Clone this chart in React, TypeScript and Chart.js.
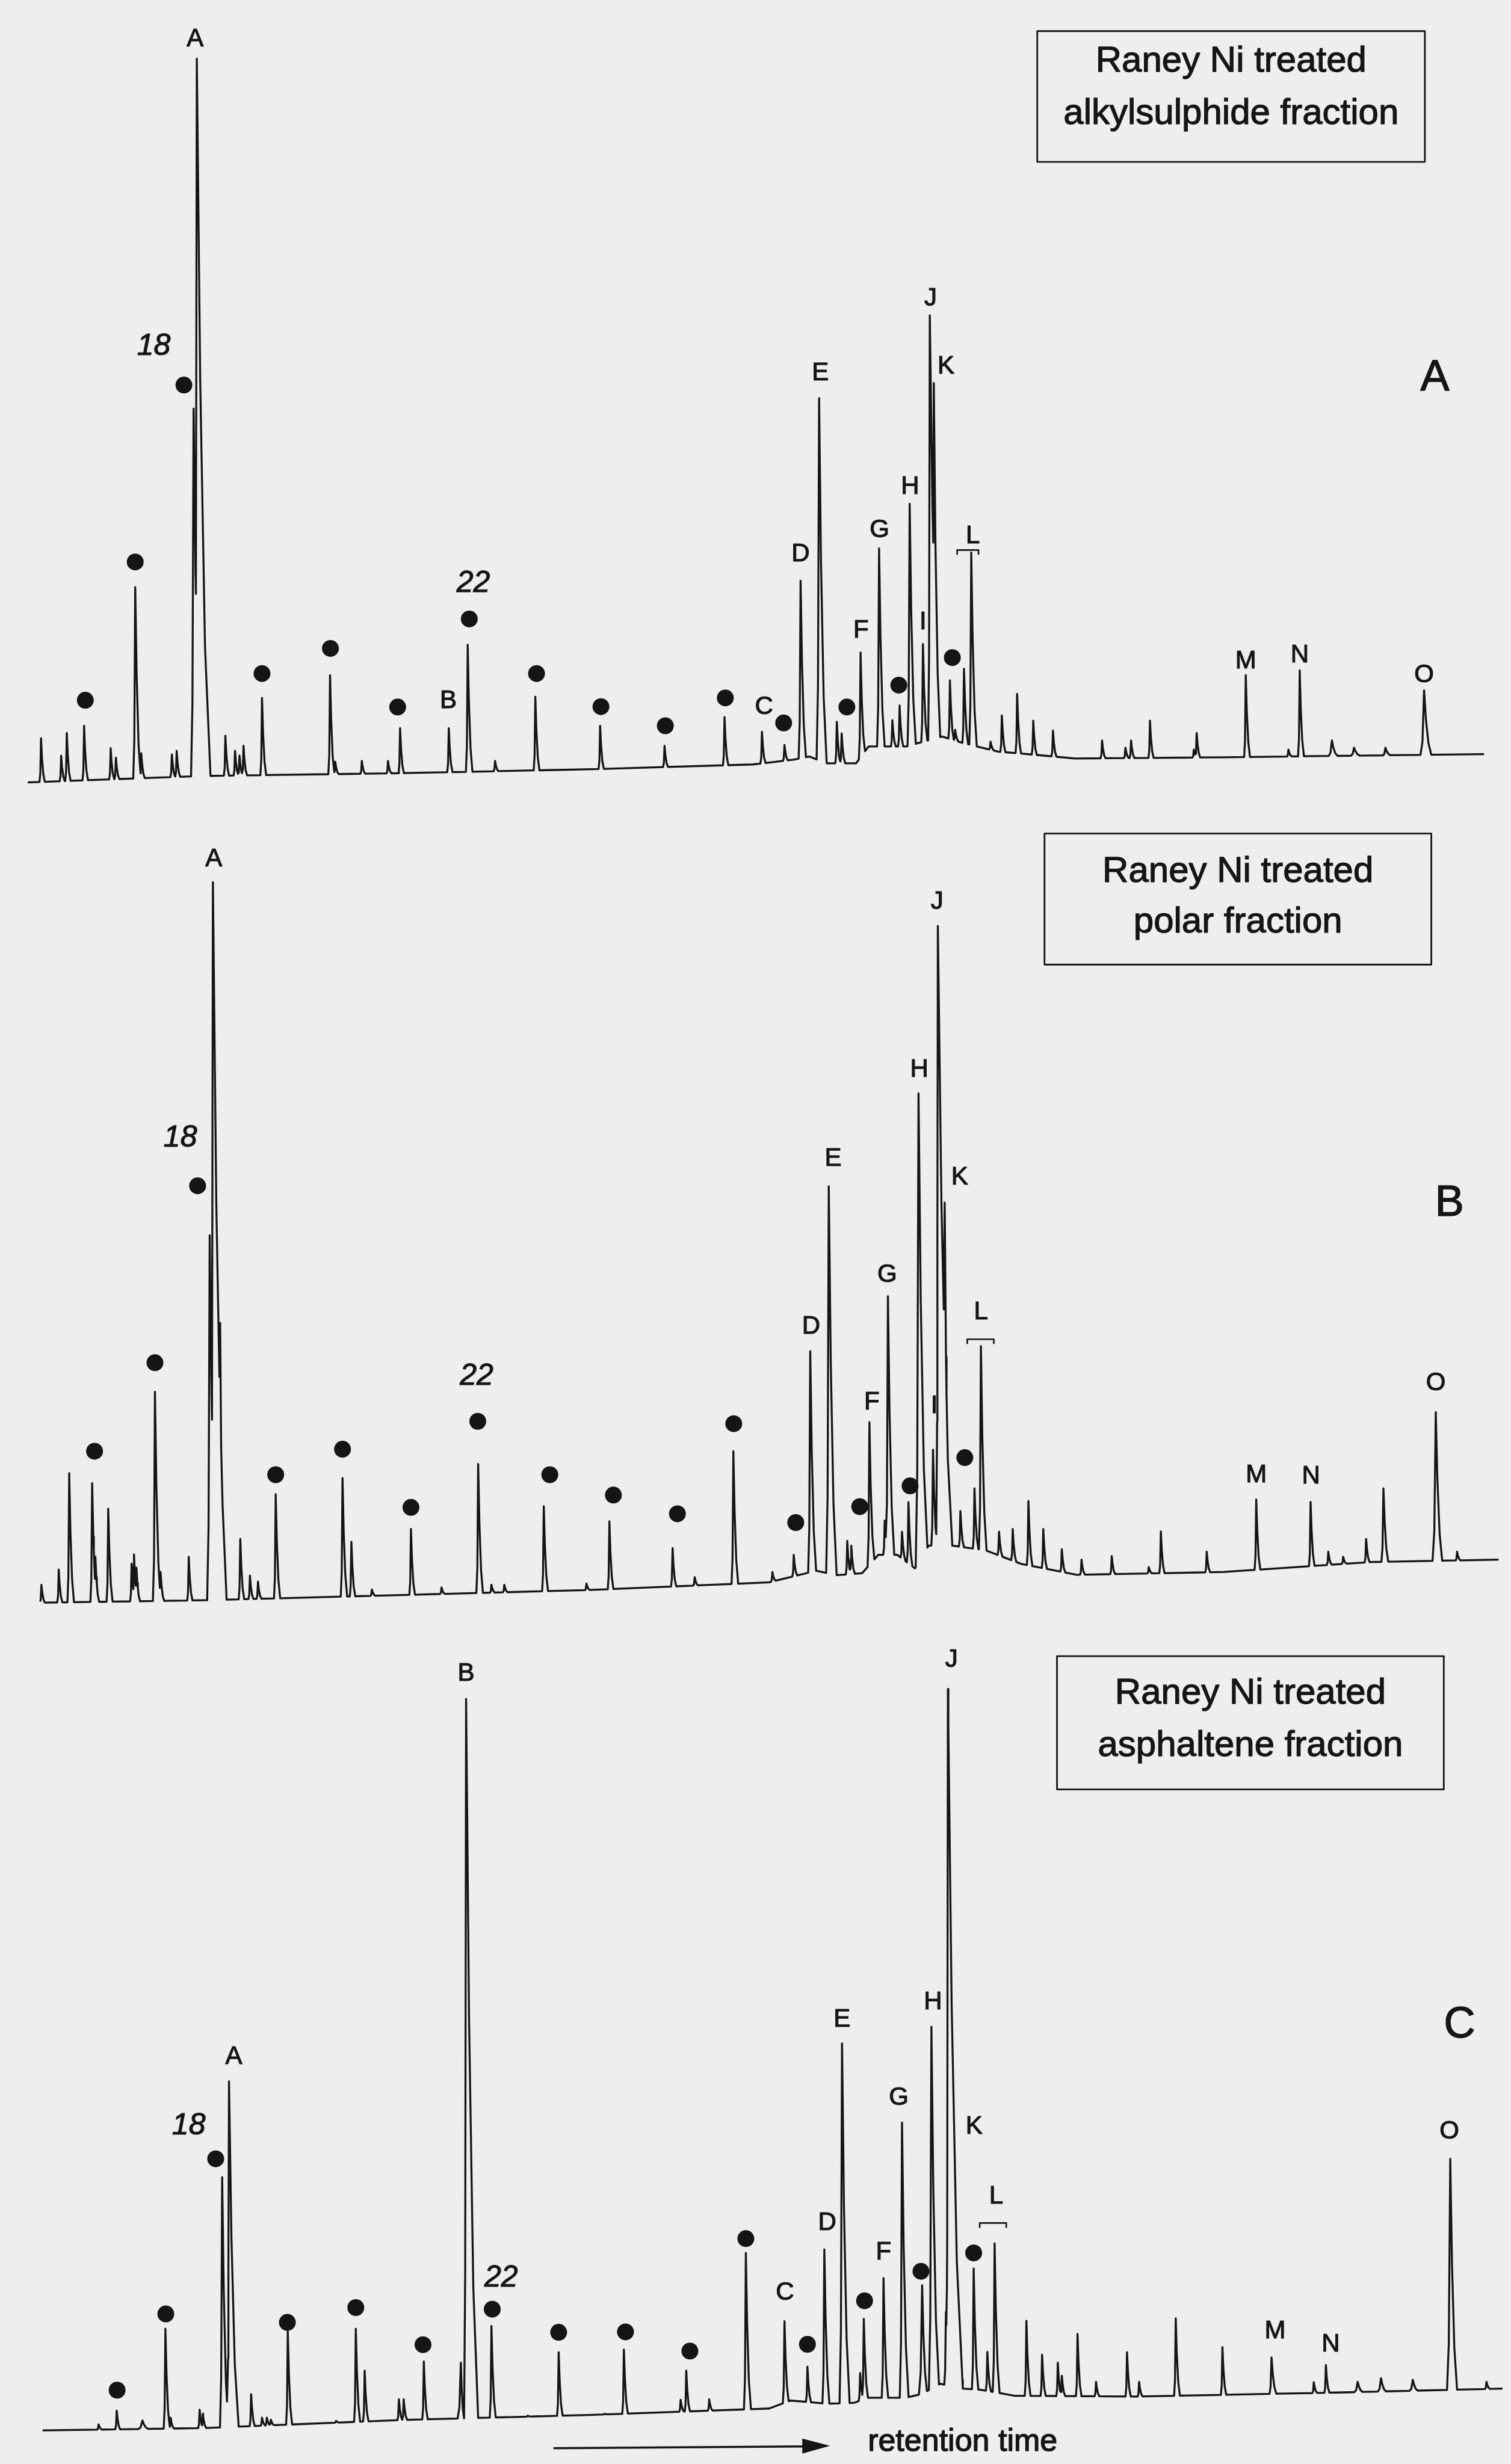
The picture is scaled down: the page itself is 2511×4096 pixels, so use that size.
import React, { useEffect, useRef } from "react";
import { Chart, registerables } from "chart.js";

Chart.register(...registerables);

type Pt = [number, number];
type Peak = number[]; // [retention time, apex height, left width?, right width?]
type Label = [string, number, number];

const TIME_MAX = 371.2;
const INK = "#151515";
const PAPER = "#eeeeee";
const FONT = '"Liberation Sans", Arial, Helvetica, sans-serif';

// ================= A: alkylsulphide fraction =================
const baselineA: Pt[] = [
  [4.8, 5.8], [48, 7.4], [97, 8.1], [145, 9.1], [185, 10.3], [195, 11.5], [199, 12.3], [203, 10.6],
  [210.6, 10.6], [213.7, 14.8], [223, 14.8], [225.8, 15.6], [232, 17.3], [236, 16], [240.6, 14.8],
  [246, 13.5], [252, 13], [265, 11.8], [302, 12.1], [366.6, 12.9],
];
const peaksA: Peak[] = [
  [8.1, 16.9], [13.1, 12.5], [14.5, 18.2], [18.8, 20.0], [25.4, 14.4], [26.7, 12], [31.5, 54.8],
  [33.0, 13.1], [40.6, 12.8], [41.8, 13.7], [46.0, 99.6], [46.8, 187.4, 0.5, 3.4], [53.9, 17.5],
  [56.3, 13.7], [57.4, 12.5], [58.4, 15], [63.0, 27], [79.9, 32.7], [81.2, 11], [87.8, 11.2],
  [94.3, 11.2], [97.3, 19.4], [109.4, 19.4], [114.1, 40.3], [120.9, 11.2], [130.9, 27.3], [147.0, 20],
  [163.0, 15], [177.9, 22.2], [187.2, 18.5], [192.8, 15.2], [196.8, 56.4], [201.4, 102.2],
  [205.8, 21], [207.0, 18.1], [211.7, 38.4], [216.3, 64.5], [219.6, 21.4], [221.4, 25.1],
  [223.9, 75.7], [227.2, 40.5], [228.9, 123, 0.4, 2.6], [229.9, 106, 0.3, 1.6], [233.9, 31.4],
  [235.2, 19], [237.4, 34.3], [239.2, 63.5], [244.0, 16], [246.8, 22.6], [250.6, 28], [254.6, 21.3],
  [259.5, 18.8], [271.7, 16.3], [277.5, 14.5], [278.9, 16.3], [283.6, 21.3], [294.5, 14], [295.2, 18.2],
  [307.4, 32.7], [318.0, 14], [320.8, 33.9], [328.8, 16.3, 0.8, 1.4], [334.3, 14.5, 0.8, 1.4],
  [342.1, 14.5, 0.6, 1.2], [351.7, 28.9, 0.9, 1.8],
];
const dotsA: Pt[] = [
  [19.1, 26.4], [31.5, 61.1], [43.6, 105.5], [63.0, 33.1], [80.0, 39.4], [96.7, 24.7], [114.5, 46.8],
  [131.2, 33.1], [147.2, 24.8], [163.2, 20.0], [178.1, 27.0], [192.6, 20.7], [208.3, 24.7],
  [221.2, 30.2], [234.5, 37.1],
];
const labelsA: Label[] = [
  ["A", 46.4, 192.2], ["18", 36.1, 115.1], ["22", 115.5, 55.7], ["B", 109.3, 26.2], ["C", 187.7, 24.7],
  ["D", 196.8, 63.1], ["E", 201.7, 108.5], ["F", 211.8, 43.8], ["G", 216.4, 69.1], ["H", 224.0, 79.9],
  ["I", 227.2, 46.0], ["J", 229.1, 127.2], ["K", 232.9, 110.2], ["L", 239.6, 67.6], ["M", 307.4, 36.2],
  ["N", 320.8, 37.7], ["O", 351.7, 32.7],
];
const boxTextA = ["Raney Ni treated", "alkylsulphide fraction"];

// ================= B: polar fraction =================
const baselineB: Pt[] = [
  [7.9, 4.2], [48.5, 4.8], [97, 6.1], [145, 7.4], [189, 9.3], [200.7, 12.2], [205.8, 11.1], [212.1, 11.6],
  [216.1, 16.2], [220.8, 16.2], [225.2, 12.8], [228.6, 18.5], [234.5, 18.5], [242.6, 17.4], [251.7, 13.9],
  [265.4, 11.2], [301.9, 11.9], [338.5, 14.4], [370.2, 15],
];
const peaksB: Peak[] = [
  [8.2, 8.7], [12.5, 12.5], [15.1, 36.7], [20.8, 34.2], [21.6, 15.7], [24.8, 27.8], [30.6, 14],
  [31.2, 16.3], [31.8, 13], [36.4, 57.1], [37.8, 11.9], [44.8, 15.7], [50.0, 96.4],
  [50.8, 185, 0.5, 3.4], [52.6, 74.4, 0.4, 1.0], [57.6, 20.2], [60.0, 11], [62.0, 9.5], [66.4, 31.4],
  [83.0, 35.5], [85.2, 19.5], [90.3, 7.5], [100.0, 22.7], [107.6, 8], [116.7, 39], [120.0, 8.7],
  [123.2, 8.7], [133.0, 28.4], [143.6, 9], [149.3, 24.6], [165.0, 17.9], [170.5, 10.6], [180.1, 42.2],
  [189.8, 11.9], [195.1, 16.2], [199.2, 67.3], [203.8, 108.7], [208.4, 19.7], [209.4, 18.5],
  [213.9, 49.5], [217.7, 24.8], [218.5, 81.1], [222.0, 22], [223.6, 29.4], [226.1, 132], [229.7, 42.6],
  [230.9, 174, 0.4, 3.6], [232.6, 104.6, 0.5, 1.3], [236.5, 27.2], [240.0, 32.9], [241.6, 68.6],
  [246.1, 22], [249.5, 22.7], [253.4, 29.7], [257.1, 22.7], [261.7, 17.6], [266.6, 15], [274.1, 15.9],
  [283.3, 13.1], [286.3, 22.1], [297.7, 17], [310.0, 30.1], [323.5, 29.5], [327.9, 17], [331.6, 15.7],
  [337.3, 20.2], [341.6, 32.9, 0.5, 1.2], [354.6, 52, 0.8, 1.6], [359.9, 17],
];
const dotsB: Pt[] = [
  [21.4, 42.2], [36.4, 64.4], [47.0, 108.8], [66.4, 36.3], [83.0, 42.7], [100.0, 28.1], [116.6, 49.7],
  [134.5, 36.3], [150.3, 31.2], [166.2, 26.5], [180.2, 49.1], [195.6, 24.3], [211.5, 28.3],
  [224.0, 33.5], [237.6, 40.6],
];
const labelsB: Label[] = [
  ["A", 51.0, 190.8], ["18", 42.7, 120.7], ["22", 116.3, 61.0], ["D", 199.4, 73.5], ["E", 204.9, 115.5],
  ["F", 214.5, 54.5], ["G", 218.3, 86.4], ["H", 226.3, 137.9], ["I", 230.0, 53.5], ["J", 230.7, 180.0],
  ["K", 236.3, 110.9], ["L", 241.6, 77.0], ["M", 310.0, 36.1], ["N", 323.6, 35.8], ["O", 354.6, 59.3],
];
const boxTextB = ["Raney Ni treated", "polar fraction"];

// ================= C: asphaltene fraction =================
const baselineC: Pt[] = [
  [8.5, 6.3], [48.5, 6.9], [97, 8.9], [145, 10.2], [189, 11.8], [194.3, 13.8], [203.5, 13], [210, 13.2],
  [213.5, 14.5], [223, 14.5], [227, 15.5], [231.5, 18], [237, 16.8], [241.5, 16.5], [250, 15],
  [280, 14.8], [330, 15.8], [371.2, 16.8],
];
const peaksC: Peak[] = [
  [22.4, 7.8], [26.9, 11.3], [33.3, 8.8, 1.0, 1.4], [39.0, 31.8], [40.3, 9.5], [47.5, 11.5], [48.3, 10.5],
  [53.1, 69.8], [54.8, 93.8, 0.5, 2.4], [60.3, 15.4], [63.0, 9.5], [64.2, 9.5], [65.2, 9], [69.4, 31.2],
  [81.4, 8.7], [86.3, 31.8], [88.5, 21.3], [97.0, 14.1], [98.2, 14.1], [103.2, 23.6],
  [112.4, 23.3, 0.8, 0.8], [113.7, 189.7, 0.5, 3.0], [120.0, 32.5], [123.6, 9.5], [129.0, 10],
  [132.0, 9.5], [136.7, 25.9], [148.1, 10.5], [152.9, 26.6], [159.7, 9.5], [167.0, 14], [168.4, 21.3],
  [174.1, 14.1], [183.2, 50.8], [192.8, 33.7], [198.5, 22.3], [202.7, 51.7], [207.1, 103.3],
  [211.6, 20.7], [212.5, 34.3], [217.4, 44.5], [222.0, 83.5], [227.0, 42.7, 0.8, 1.2], [229.3, 107.5],
  [232.9, 36], [233.4, 192.2, 0.4, 3.7], [239.8, 46.9], [243.2, 26], [245.0, 53.2], [252.9, 33.8],
  [256.8, 25.3], [260.7, 23.3], [261.7, 20], [265.6, 30.5], [270.2, 18.5], [277.9, 25.9], [280.9, 18.5],
  [290.0, 34.4], [301.6, 27.2], [313.8, 24.6, 0.5, 1.2], [324.3, 18.4], [327.3, 22.7],
  [335.2, 18.5, 0.8, 1.2], [341.0, 19.4, 0.8, 1.2], [348.9, 19, 0.8, 1.2], [358.2, 74.4, 0.8, 1.7],
  [367.2, 18.5],
];
const dotsC: Pt[] = [
  [27.0, 16.4], [39.1, 35.5], [51.5, 74.4], [69.3, 33.4], [86.3, 37.1], [103.0, 27.8], [120.2, 36.7],
  [136.7, 30.9], [153.3, 31.0], [169.3, 26.2], [183.2, 54.4], [198.5, 27.9], [212.7, 38.8],
  [226.7, 46.2], [239.8, 50.8],
];
const labelsC: Label[] = [
  ["B", 113.7, 196.0], ["A", 56.0, 99.9], ["18", 44.8, 82.7], ["22", 122.4, 44.5], ["C", 192.9, 40.8],
  ["D", 203.4, 58.3], ["E", 207.1, 109.3], ["F", 217.4, 50.9], ["G", 221.2, 89.7], ["H", 229.7, 113.6],
  ["J", 234.3, 199.5], ["K", 239.9, 82.5], ["L", 245.4, 64.9], ["M", 314.7, 31.2], ["N", 328.5, 27.9],
  ["O", 358.0, 81.2],
];
const boxTextC = ["Raney Ni treated", "asphaltene fraction"];

// ================= layout (positions in axis units) =================
const panels = [
  {
    height: 1353, yMax: 200, baseline: baselineA, peaks: peaksA, dots: dotsA, labels: labelsA,
    letter: { text: "A", t: 354.4, y: 107.2 },
    box: { t0: 255.6, t1: 351.9, y0: 194.3, y1: 161.5, lines: boxTextA, ly: [186.6, 173.5] },
    bracket: { t0: 235.7, t1: 241.0, y: 64.1 },
  },
  {
    height: 1353, yMax: 200, baseline: baselineB, peaks: peaksB, dots: dotsB, labels: labelsB,
    letter: { text: "B", t: 358.0, y: 104.3 },
    box: { t0: 257.4, t1: 353.5, y0: 197.2, y1: 164.3, lines: boxTextB, ly: [187.6, 174.9] },
    bracket: { t0: 238.2, t1: 244.8, y: 70.3 },
  },
  {
    height: 1390, yMax: 205.4, baseline: baselineC, peaks: peaksC, dots: dotsC, labels: labelsC,
    letter: { text: "C", t: 360.5, y: 107.8 },
    box: { t0: 260.5, t1: 356.6, y0: 200.4, y1: 167.0, lines: boxTextC, ly: [191.0, 177.9] },
    bracket: { t0: 241.3, t1: 247.9, y: 58.3 },
    caption: { text: "retention time", t: 213.5, y: 1.2, arrowFrom: 135.4, arrowTo: 204.1, arrowY: 2.3 },
  },
];

function lerp(pts: Pt[], x: number): number {
  if (x <= pts[0][0]) return pts[0][1];
  for (let i = 1; i < pts.length; i++) {
    if (x <= pts[i][0]) {
      const [x0, y0] = pts[i - 1];
      const [x1, y1] = pts[i];
      return x1 === x0 ? y1 : y0 + ((y1 - y0) * (x - x0)) / (x1 - x0);
    }
  }
  return pts[pts.length - 1][1];
}

// peak outline: sharp rise, tailing fall
function buildTrace(baseline: Pt[], peaks: Peak[]) {
  const shapes = peaks.map(([t, h, wlO, wrO]) => {
    const amp = Math.max(0, h - lerp(baseline, t));
    const wl = wlO ?? 0.35 + 0.003 * amp;
    const wr = wrO ?? 0.8 + 0.012 * amp;
    const v: Pt[] = [
      [t - wl, 0], [t - 0.45 * wl, 0.2], [t, 1], [t + 0.25 * wr, 0.55], [t + 0.6 * wr, 0.18], [t + wr, 0],
    ];
    return { amp, v };
  });
  const t0 = baseline[0][0];
  const t1 = baseline[baseline.length - 1][0];
  const xs = Array.from(
    new Set([...baseline.map((p) => p[0]), ...shapes.flatMap((s) => s.v.map((p) => +p[0].toFixed(4)))])
  )
    .filter((x) => x >= t0 && x <= t1)
    .sort((a, b) => a - b);
  return xs.map((x) => {
    let f = 0;
    for (const s of shapes) {
      if (x > s.v[0][0] && x < s.v[5][0]) f = Math.max(f, s.amp * lerp(s.v, x));
    }
    return { x, y: lerp(baseline, x) + f };
  });
}

function inkText(ctx: CanvasRenderingContext2D, s: string, x: number, y: number, weight: number) {
  ctx.lineWidth = weight;
  ctx.strokeText(s, x, y);
  ctx.fillText(s, x, y);
}

function overlay(p: any) {
  return {
    id: "overlay",
    afterDatasetsDraw(chart: any) {
      const { ctx, scales } = chart;
      const X = (t: number) => scales.x.getPixelForValue(t);
      const Y = (v: number) => scales.y.getPixelForValue(v);
      ctx.save();
      ctx.fillStyle = INK;
      ctx.strokeStyle = INK;
      ctx.lineJoin = "round";
      ctx.textAlign = "center";
      ctx.textBaseline = "middle";
      for (const [s, t, v] of p.labels as Label[]) {
        const italic = /^\d+$/.test(s);
        ctx.font = italic ? `italic 50px ${FONT}` : `42px ${FONT}`;
        inkText(ctx, s, X(t), Y(v), 1.2);
      }
      // bracket over L
      const b = p.bracket;
      ctx.lineWidth = 2.6;
      ctx.beginPath();
      ctx.moveTo(X(b.t0), Y(b.y) + 8);
      ctx.lineTo(X(b.t0), Y(b.y));
      ctx.lineTo(X(b.t1), Y(b.y));
      ctx.lineTo(X(b.t1), Y(b.y) + 8);
      ctx.stroke();
      // title box
      const bx = p.box;
      ctx.lineWidth = 2.8;
      ctx.strokeRect(X(bx.t0), Y(bx.y0), X(bx.t1) - X(bx.t0), Y(bx.y1) - Y(bx.y0));
      ctx.font = `60px ${FONT}`;
      const cx = (X(bx.t0) + X(bx.t1)) / 2;
      bx.lines.forEach((line: string, i: number) => inkText(ctx, line, cx, Y(bx.ly[i]), 1.3));
      // panel letter
      ctx.font = `72px ${FONT}`;
      inkText(ctx, p.letter.text, X(p.letter.t), Y(p.letter.y), 1.5);
      // retention time arrow
      if (p.caption) {
        const c = p.caption;
        const ay = Y(c.arrowY);
        const tip = X(c.arrowTo);
        ctx.lineWidth = 3.4;
        ctx.beginPath();
        ctx.moveTo(X(c.arrowFrom), ay + 3);
        ctx.lineTo(tip - 40, ay);
        ctx.stroke();
        ctx.beginPath();
        ctx.moveTo(tip, ay - 1);
        ctx.lineTo(tip - 46, ay - 13);
        ctx.lineTo(tip - 46, ay + 12);
        ctx.closePath();
        ctx.fill();
        ctx.textAlign = "left";
        ctx.textBaseline = "alphabetic";
        ctx.font = `52px ${FONT}`;
        inkText(ctx, c.text, X(c.t), Y(c.y), 1.4);
      }
      ctx.restore();
    },
  };
}

function Panel({ p }: { p: any }) {
  const ref = useRef<HTMLCanvasElement>(null);
  useEffect(() => {
    const trace = buildTrace(p.baseline, p.peaks);
    const chart = new Chart(ref.current as HTMLCanvasElement, {
      type: "scatter",
      data: {
        datasets: [
          {
            data: trace,
            showLine: true,
            borderColor: INK,
            borderWidth: 3.3,
            borderJoinStyle: "round",
            pointRadius: 0,
            pointHoverRadius: 0,
            tension: 0,
            fill: false,
            order: 2,
          } as any,
          {
            data: p.dots.map(([t, v]: Pt) => ({ x: t, y: v })),
            pointRadius: 14,
            pointHoverRadius: 14,
            backgroundColor: INK,
            borderColor: INK,
            borderWidth: 0,
            order: 1,
          } as any,
        ],
      },
      options: {
        responsive: false,
        maintainAspectRatio: false,
        animation: false,
        devicePixelRatio: 1,
        events: [],
        layout: { padding: 0 },
        plugins: { legend: { display: false }, tooltip: { enabled: false } },
        scales: {
          x: { type: "linear", min: 0, max: TIME_MAX, display: false },
          y: { type: "linear", min: 0, max: p.yMax, display: false },
        },
      },
      plugins: [overlay(p)],
    });
    return () => chart.destroy();
  }, []);
  return (
    <canvas
      ref={ref}
      width={2511}
      height={p.height}
      style={{ display: "block", width: 2511, height: p.height }}
    />
  );
}

export default function App() {
  return (
    <div
      style={{
        position: "absolute",
        left: 0,
        top: 0,
        width: 2511,
        height: 4096,
        background: PAPER,
        overflow: "hidden",
      }}
    >
      {panels.map((p, i) => (
        <Panel key={i} p={p} />
      ))}
    </div>
  );
}
